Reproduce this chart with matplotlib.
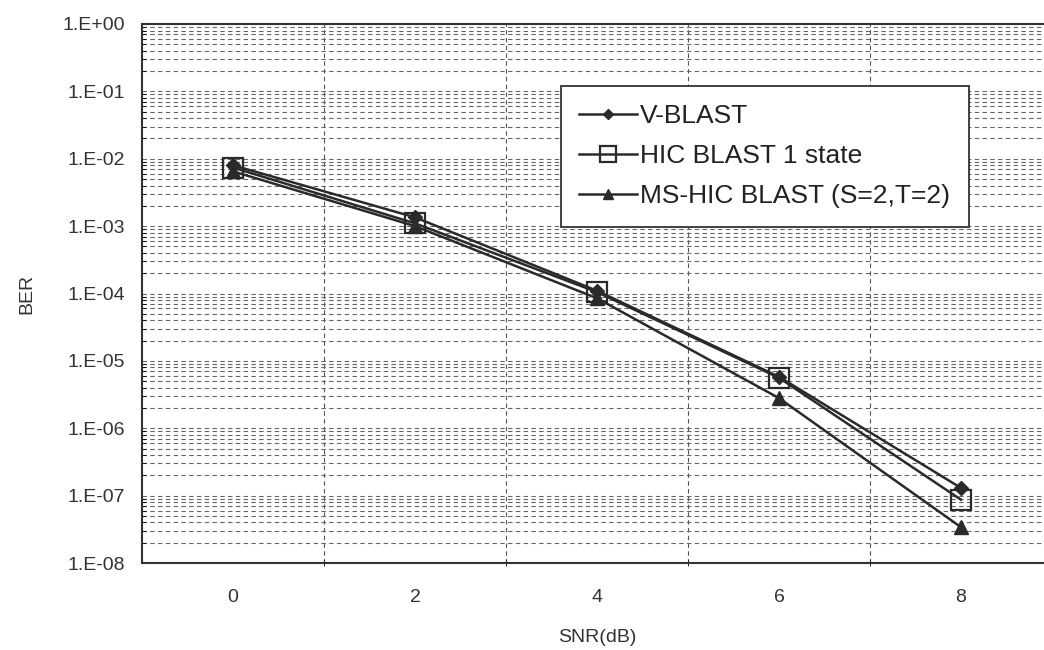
import matplotlib.pyplot as plt
import numpy as np
from matplotlib.ticker import FixedLocator, LogLocator, NullFormatter

plt.rcParams['font.family'] = ['Liberation Sans', 'DejaVu Sans']

# SNR categories and BER for each detector
snr = ["0", "2", "4", "6", "8"]
vblast = [8.0e-3, 1.35e-3, 1.1e-4, 5.8e-6, 1.3e-7]
hic_1state = [7.4e-3, 1.1e-3, 1.05e-4, 5.6e-6, 8.7e-8]
ms_hic = [6.5e-3, 1.0e-3, 8.5e-5, 2.8e-6, 3.4e-8]

y_ticks = [1e0, 1e-1, 1e-2, 1e-3, 1e-4, 1e-5, 1e-6, 1e-7, 1e-8]
y_labels = ["1.E+00", "1.E-01", "1.E-02", "1.E-03", "1.E-04",
            "1.E-05", "1.E-06", "1.E-07", "1.E-08"]

fig = plt.figure(figsize=(10.44, 6.5), dpi=100)
# plot area runs a little past the right edge of the page
ax = fig.add_axes([142 / 1044, 1 - 563 / 650, 910 / 1044, 539 / 650])

x = np.arange(len(snr))
line_kw = dict(color='#2a2a2a', lw=1.8)
ax.plot(x, vblast, marker='D', ms=7, mfc='#2a2a2a', mec='#2a2a2a',
        label='V-BLAST', **line_kw)
ax.plot(x, hic_1state, marker='s', ms=15, mfc='none', mec='#2a2a2a', mew=1.6,
        label='HIC BLAST 1 state', **line_kw)
ax.plot(x, ms_hic, marker='^', ms=10, mfc='#2a2a2a', mec='#2a2a2a',
        label='MS-HIC BLAST (S=2,T=2)', **line_kw)

ax.set_yscale('log')
ax.set_ylim(1e-8, 1e0)
ax.set_xlim(-0.5, len(snr) - 0.5)

ax.yaxis.set_major_locator(FixedLocator(y_ticks))
ax.set_yticklabels(y_labels)
ax.yaxis.set_minor_locator(LogLocator(base=10, subs=np.arange(2, 10)))
ax.yaxis.set_minor_formatter(NullFormatter())
ax.set_xticks(x)
ax.set_xticklabels(snr)
ax.set_xticks(np.arange(len(snr)) + 0.5, minor=True)

ax.grid(which='both', axis='y', linestyle=(0, (4, 3)), color='#666666', lw=0.8)
ax.grid(which='minor', axis='x', linestyle=(0, (4, 3)), color='#555555', lw=0.8)
ax.set_axisbelow(True)

ax.tick_params(axis='both', which='major', length=0, labelsize=14,
               colors='#333333')
ax.tick_params(axis='x', which='major', pad=19)
ax.tick_params(axis='y', which='major', pad=12)
ax.tick_params(axis='y', which='minor', length=3, direction='in')
ax.tick_params(axis='x', which='minor', length=5, direction='inout')
for s in ax.spines.values():
    s.set_color('#333333')
    s.set_linewidth(1.5)

ax.set_xlabel('SNR(dB)', fontsize=14, color='#333333', labelpad=16)
ax.set_ylabel('BER', fontsize=14, color='#333333', labelpad=20)

leg = ax.legend(loc='upper left', bbox_to_anchor=(0.4604, 0.885),
                borderaxespad=0, fontsize=19, frameon=True, fancybox=False,
                edgecolor='#333333', handlelength=2.2, handletextpad=0.1,
                labelspacing=0.6, borderpad=0.7, markerscale=0.75)
leg.get_frame().set_linewidth(1.3)
leg.get_frame().set_alpha(1)
for t in leg.get_texts():
    t.set_color('#222222')

fig.savefig('out.png', dpi=100)
